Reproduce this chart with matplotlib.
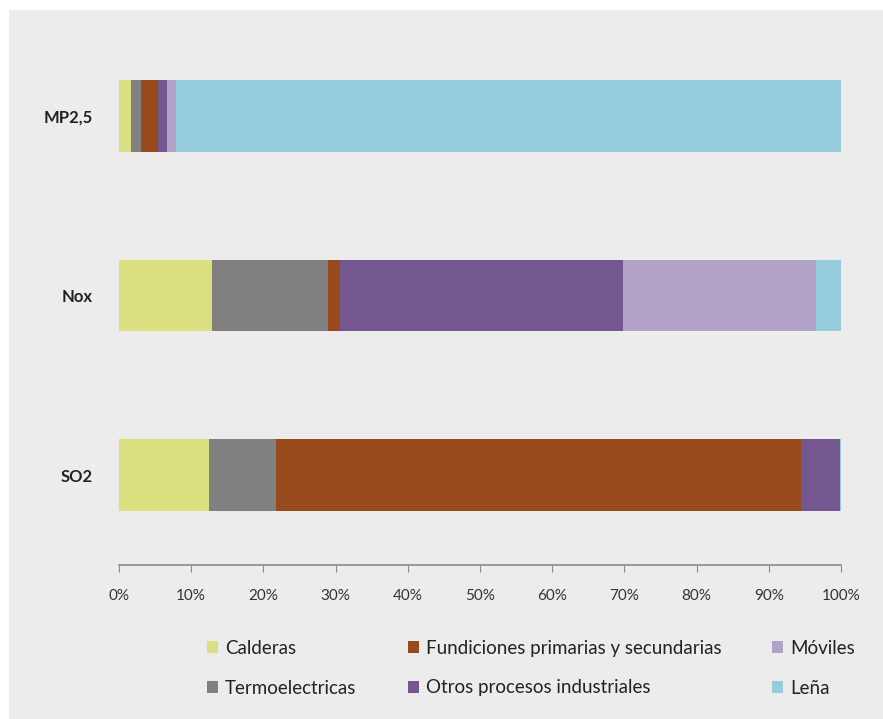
import numpy as np
import matplotlib.pyplot as plt
from matplotlib.patches import Rectangle, Patch
from matplotlib.ticker import PercentFormatter

# categories, bottom to top
contaminantes = ['SO2', 'Nox', 'MP2,5']

fuentes = ['Calderas', 'Termoelectricas', 'Fundiciones primarias y secundarias',
           'Otros procesos industriales', 'M\u00f3viles', 'Le\u00f1a']
colores = ['#dadf80', '#808080', '#984a1c', '#74578f', '#b3a2c7', '#95cddc']

# share (%) of each source, order: SO2, Nox, MP2,5
calderas = [12.5, 12.9, 1.6]
termo = [9.2, 16.1, 1.4]
fundiciones = [72.7, 1.6, 2.4]
otros = [5.4, 39.2, 1.2]
moviles = [0.0, 26.7, 1.3]
lena = [0.2, 3.5, 92.1]
series = [calderas, termo, fundiciones, otros, moviles, lena]

plt.rcParams['font.family'] = ['Lato', 'DejaVu Sans']

W, H = 883, 719
fig = plt.figure(figsize=(W / 100, H / 100), dpi=100, facecolor='white')
fig.patches.append(Rectangle((9 / W, 0), 1 - 9 / W, 1 - 10 / H, transform=fig.transFigure,
                             facecolor='#ebeceb', edgecolor='none', zorder=-10))

ax = fig.add_axes([119 / W, (H - 565) / H, 722 / W, 539 / H])
ax.set_facecolor('none')

y = np.arange(len(contaminantes))
left = np.zeros(len(contaminantes))
for vals, col in zip(series, colores):
    ax.barh(y, vals, left=left, height=0.4, color=col, edgecolor='none')
    left += np.array(vals)

ax.set_xlim(0, 100)
ax.set_ylim(-0.5, 2.5)
ax.set_xticks(np.arange(0, 101, 10))
ax.xaxis.set_major_formatter(PercentFormatter(decimals=0))
ax.set_yticks(y)
ax.set_yticklabels(contaminantes, fontweight='bold', fontsize=12, color='#222222')
ax.tick_params(axis='y', length=0, pad=19)
ax.tick_params(axis='x', length=5, color='#8a8a8a', labelsize=11, labelcolor='#333333', pad=12)
for s in ['top', 'right', 'left']:
    ax.spines[s].set_visible(False)
ax.spines['bottom'].set_color('#8a8a8a')
ax.spines['bottom'].set_linewidth(1.2)

handles = [Patch(facecolor=c, edgecolor='none') for c in colores]
col_x = [207 / W, 408 / W, 772 / W]
for i, cx in enumerate(col_x):
    fig.legend(handles[2 * i:2 * i + 2], fuentes[2 * i:2 * i + 2], loc='upper left',
               bbox_to_anchor=(cx, 1 - 640 / H), frameon=False, fontsize=13.5,
               handlelength=0.6, handleheight=0.6, handletextpad=0.35,
               labelspacing=1.2, borderaxespad=0, borderpad=0, labelcolor='#222222')

fig.savefig('out.png', dpi=100, facecolor='white')
